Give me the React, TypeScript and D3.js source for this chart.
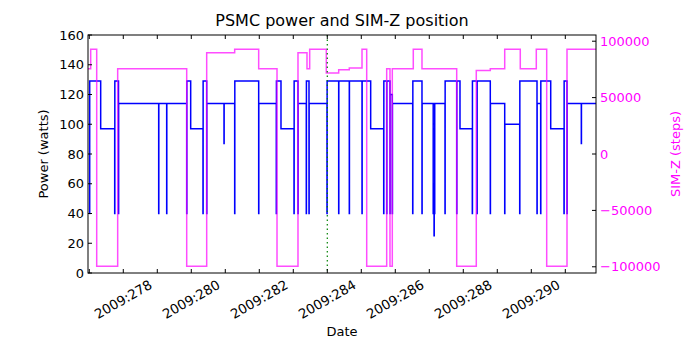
import React from "react";
import * as d3 from "d3";

// Power (watts) step series: day-of-year 2009, value
const powerDays = [
  277.0, 277.012, 277.335, 277.747, 277.751, 277.859, 277.863,
  279.041, 279.045, 279.276, 279.28, 279.865, 279.869, 279.982,
  280.344, 280.348, 280.453, 280.457, 280.962, 280.966,
  281.276, 281.28, 281.982, 281.986, 282.5, 282.504, 282.638,
  283.021, 283.025, 283.138, 283.142, 283.382, 283.386, 283.462, 283.466,
  283.991, 283.995, 284.335, 284.339, 284.647, 284.651,
  285.021, 285.025, 285.276, 285.659, 285.663, 285.747, 285.751,
  285.844, 285.848, 285.912, 285.916,
  286.512, 286.516, 286.785, 286.789,
  287.115, 287.125, 287.14, 287.145, 287.16,
  287.462, 287.466, 287.806, 287.81, 287.903,
  288.265, 288.269, 288.403, 288.407, 288.794, 288.798,
  289.218, 289.222, 289.659, 289.663,
  290.168, 290.172, 290.276, 290.28, 290.571,
  290.962, 290.966, 291.05, 291.054, 291.471, 291.475, 291.903,
];
const powerWatts = [
  40, 129, 97, 40, 129, 40, 114,
  40, 114, 40, 114, 40, 129, 97,
  40, 129, 40, 114, 87, 114,
  40, 129, 40, 114, 40, 129, 97,
  40, 129, 40, 114, 40, 129, 40, 114,
  40, 129, 40, 129, 40, 129,
  40, 129, 97, 40, 129, 40, 129,
  40, 120, 40, 114,
  40, 129, 40, 114,
  40, 60, 25, 40, 114,
  40, 129, 40, 129, 97,
  40, 129, 40, 129, 40, 114,
  40, 100, 40, 129,
  40, 114, 40, 129, 97,
  40, 129, 40, 114, 87, 114, 114,
];

// SIM-Z position (steps) step series
const simzDays = [
  276.962, 277.041, 277.218, 277.835, 279.865, 280.453, 281.276, 281.982,
  282.521, 283.138, 283.403, 283.482, 283.971, 284.335, 284.647, 285.021,
  285.159, 285.747, 285.844, 285.912, 286.529, 286.785, 287.806, 288.382,
  288.794, 289.218, 289.676, 290.147, 290.453, 291.05, 291.903,
];
const simzSteps = [
  75624, 92904, -99616, 75624, -99616, 89800, 92904, 75624,
  -99616, 89800, 75624, 92904, 71800, 74800, 76200, 92904,
  -99616, 75624, -99616, 75624, 92904, 75624, -99616, 74100,
  75624, 92904, 75624, 92904, -99616, 92904, 92904,
];

const markerDay = 284.0;
const dayTicks = [277, 278, 279, 280, 281, 282, 283, 284, 285, 286, 287, 288, 289, 290, 291];
const dayLabels = [278, 280, 282, 284, 286, 288, 290];
const powerTicks = [0, 20, 40, 60, 80, 100, 120, 140, 160];
const simzTicks = [-100000, -50000, 0, 50000, 100000];

const W = 700, H = 350;
const L = 88, R = 596, T = 35, B = 273;
const FONT = "DejaVu Sans, sans-serif";

export default function App() {
  const x = d3.scaleLinear().domain([276.962, 291.903]).range([L, R]);
  const y = d3.scaleLinear().domain([0, 160]).range([B, T]);
  const y2 = d3.scaleLinear().domain([-105500, 105500]).range([B, T]);

  const pLine = d3
    .line<number>()
    .x((_, i) => x(powerDays[i]))
    .y((d) => y(d))
    .curve(d3.curveStepAfter);
  const sLine = d3
    .line<number>()
    .x((_, i) => x(simzDays[i]))
    .y((d) => y2(d))
    .curve(d3.curveStepAfter);

  const tick = 4;
  const magenta = "#ff00ff";

  return (
    <svg
      width={W}
      height={H}
      style={{ position: "absolute", left: 0, top: 0, background: "#fff" }}
      fontFamily={FONT}
    >
      <defs>
        <clipPath id="plot">
          <rect x={L} y={T} width={R - L} height={B - T} />
        </clipPath>
      </defs>
      <rect x={0} y={0} width={W} height={H} fill="#fff" />
      <g clipPath="url(#plot)">
        <path d={pLine(powerWatts) || ""} fill="none" stroke="#0000ff" strokeWidth={1.5} />
        <path
          d={sLine(simzSteps) || ""}
          fill="none"
          stroke={magenta}
          strokeOpacity={0.7}
          strokeWidth={1.5}
        />
        <line
          x1={x(markerDay)}
          x2={x(markerDay)}
          y1={T}
          y2={B}
          stroke="#008000"
          strokeWidth={1.2}
          strokeDasharray="1.5,3"
        />
      </g>
      <rect x={L} y={T} width={R - L} height={B - T} fill="none" stroke="#000" strokeWidth={1} />
      {/* x ticks */}
      {dayTicks.map((d) => (
        <g key={"xt" + d}>
          <line x1={x(d)} x2={x(d)} y1={B} y2={B - tick} stroke="#000" />
          <line x1={x(d)} x2={x(d)} y1={T} y2={T + tick} stroke="#000" />
        </g>
      ))}
      {dayLabels.map((d) => (
        <text
          key={"xl" + d}
          transform={`translate(${x(d)},${299.5}) rotate(-30)`}
          textAnchor="middle"
          dominantBaseline="central"
          fontSize={13.3}
          fill="#000"
        >
          {`2009:${d}`}
        </text>
      ))}
      {/* left ticks */}
      {powerTicks.map((v) => (
        <g key={"yt" + v}>
          <line x1={L} x2={L + tick} y1={y(v)} y2={y(v)} stroke="#000" />
          <text x={L - 4} y={y(v)} textAnchor="end" dominantBaseline="central" fontSize={13} fill="#000">
            {v}
          </text>
        </g>
      ))}
      {/* right ticks */}
      {simzTicks.map((v) => (
        <g key={"y2t" + v}>
          <line x1={R} x2={R - tick} y1={y2(v)} y2={y2(v)} stroke="#000" />
          <text x={R + 4} y={y2(v)} textAnchor="start" dominantBaseline="central" fontSize={13} fill={magenta}>
            {v < 0 ? "\u2212" + Math.abs(v) : String(v)}
          </text>
        </g>
      ))}
      <text x={(L + R) / 2} y={20} textAnchor="middle" dominantBaseline="central" fontSize={16} fill="#000">
        PSMC power and SIM-Z position
      </text>
      <text x={(L + R) / 2} y={331} textAnchor="middle" dominantBaseline="central" fontSize={13} fill="#000">
        Date
      </text>
      <text
        transform={`translate(43,${(T + B) / 2}) rotate(-90)`}
        textAnchor="middle"
        dominantBaseline="central"
        fontSize={13}
        fill="#000"
      >
        Power (watts)
      </text>
      <text
        transform={`translate(675,${(T + B) / 2}) rotate(-90)`}
        textAnchor="middle"
        dominantBaseline="central"
        fontSize={13}
        fill={magenta}
      >
        SIM-Z (steps)
      </text>
    </svg>
  );
}
